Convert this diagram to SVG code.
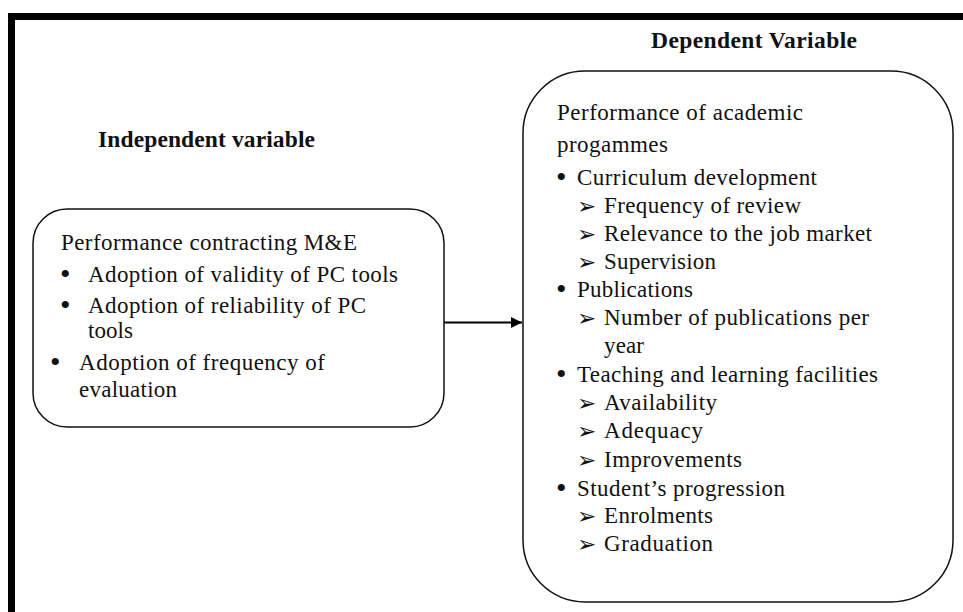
<svg xmlns="http://www.w3.org/2000/svg" width="963" height="612" viewBox="0 0 963 612">
  <style>
    .t { font-family: "Liberation Serif", "Times New Roman", serif; font-size: 23px; fill: #111; }
    .h { font-family: "Liberation Serif", "Times New Roman", serif; font-size: 23.5px; font-weight: bold; fill: #111; }
    .b { font-family: "Liberation Serif", "Times New Roman", serif; font-size: 30px; fill: #111; }
    .sym { font-family: "DejaVu Sans", sans-serif; font-size: 23px; fill: #111; }
    .box { fill: #fff; stroke: #111; stroke-width: 1.5; }
  </style>
  <defs>
    <marker id="arrow" viewBox="0 0 10 10" refX="10" refY="5" markerWidth="11" markerHeight="11" markerUnits="userSpaceOnUse" orient="auto">
      <path d="M0,0 L10,5 L0,10 Z" fill="#000"/>
    </marker>
  </defs>
  <rect width="963" height="612" fill="#fff"/>

  <!-- page frame -->
  <g id="frame">
    <line x1="8" y1="16.5" x2="963" y2="16.5" stroke="#000" stroke-width="7"/>
    <line x1="11.5" y1="13" x2="11.5" y2="612" stroke="#000" stroke-width="7"/>
  </g>

  <!-- headings -->
  <g id="headings">
    <text class="h" x="98" y="147" textLength="217" lengthAdjust="spacing">Independent variable</text>
    <text class="h" x="651" y="48" textLength="206" lengthAdjust="spacing">Dependent Variable</text>
  </g>

  <!-- independent variable node -->
  <g id="independent">
    <rect class="box" x="33" y="209" width="411" height="218" rx="34" ry="34"/>
    <text class="t" x="61" y="250" textLength="296" lengthAdjust="spacing">Performance contracting M&amp;E</text>
    <text class="b" x="60" y="284">•</text>
    <text class="t" x="88" y="282" textLength="310" lengthAdjust="spacing">Adoption of validity of PC tools</text>
    <text class="b" x="60" y="315">•</text>
    <text class="t" x="88" y="313" textLength="278" lengthAdjust="spacing">Adoption of reliability of PC</text>
    <text class="t" x="88" y="338" textLength="45" lengthAdjust="spacing">tools</text>
    <text class="b" x="50" y="372">•</text>
    <text class="t" x="79" y="370" textLength="246" lengthAdjust="spacing">Adoption of frequency of</text>
    <text class="t" x="79" y="397" textLength="98" lengthAdjust="spacing">evaluation</text>
  </g>

  <!-- dependent variable node -->
  <g id="dependent">
    <rect class="box" x="523" y="71" width="430" height="531" rx="62" ry="62"/>
    <text class="t" x="557" y="120" textLength="246" lengthAdjust="spacing">Performance of academic</text>
    <text class="t" x="557" y="152" textLength="111" lengthAdjust="spacing">progammes</text>

    <text class="b" x="556" y="187">•</text>
    <text class="t" x="577" y="185" textLength="240" lengthAdjust="spacing">Curriculum  development</text>
    <text class="sym" x="577" y="214">➢</text>
    <text class="t" x="604" y="213" textLength="197" lengthAdjust="spacing">Frequency of review</text>
    <text class="sym" x="577" y="242">➢</text>
    <text class="t" x="604" y="241" textLength="268" lengthAdjust="spacing">Relevance to the job market</text>
    <text class="sym" x="577" y="270">➢</text>
    <text class="t" x="604" y="269" textLength="112" lengthAdjust="spacing">Supervision</text>

    <text class="b" x="556" y="299">•</text>
    <text class="t" x="577" y="297" textLength="116" lengthAdjust="spacing">Publications</text>
    <text class="sym" x="577" y="326">➢</text>
    <text class="t" x="604" y="325" textLength="265" lengthAdjust="spacing">Number of publications per</text>
    <text class="t" x="604" y="353" textLength="40" lengthAdjust="spacing">year</text>

    <text class="b" x="556" y="384">•</text>
    <text class="t" x="577" y="382" textLength="301" lengthAdjust="spacing">Teaching and learning facilities</text>
    <text class="sym" x="577" y="411">➢</text>
    <text class="t" x="604" y="410" textLength="113" lengthAdjust="spacing">Availability</text>
    <text class="sym" x="577" y="439">➢</text>
    <text class="t" x="604" y="438" textLength="99" lengthAdjust="spacing">Adequacy</text>
    <text class="sym" x="577" y="468">➢</text>
    <text class="t" x="604" y="467" textLength="138" lengthAdjust="spacing">Improvements</text>

    <text class="b" x="556" y="498">•</text>
    <text class="t" x="577" y="496" textLength="208" lengthAdjust="spacing">Student’s progression</text>
    <text class="sym" x="577" y="524">➢</text>
    <text class="t" x="604" y="523" textLength="109" lengthAdjust="spacing">Enrolments</text>
    <text class="sym" x="577" y="552">➢</text>
    <text class="t" x="604" y="551" textLength="109" lengthAdjust="spacing">Graduation</text>
  </g>

  <!-- connectors -->
  <g id="connectors">
    <line x1="444" y1="322.5" x2="522" y2="322.5" stroke="#000" stroke-width="2" marker-end="url(#arrow)"/>
  </g>
</svg>
